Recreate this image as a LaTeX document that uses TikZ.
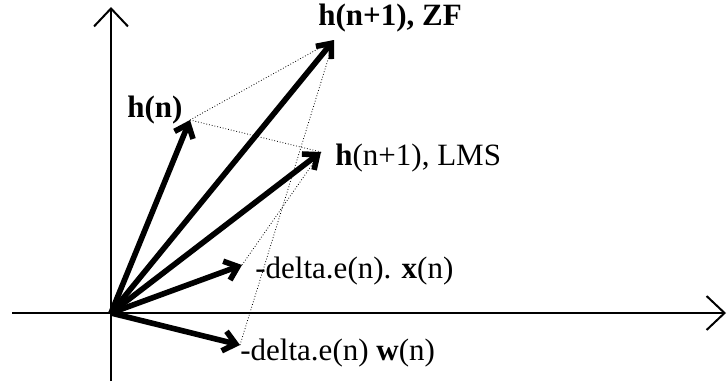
\documentclass[tikz,border=0pt]{standalone}
\usepackage{fontspec}
\setmainfont{Liberation Serif}
\usetikzlibrary{arrows.meta,positioning}
\tikzset{
  ax/.style={-{Straight Barb[length=9pt,width=17pt]},line width=1pt},
  vec/.style={-{Straight Barb[length=6pt,width=10pt]},line width=2.8pt},
  guide/.style={densely dotted,line width=0.4pt},
  lbl/.style={font=\fontsize{15.5}{17}\selectfont,inner sep=0pt,anchor=base west}
}
\begin{document}
\begin{tikzpicture}[x=0.5pt,y=-0.5pt]
\useasboundingbox (0,0) rectangle (727,381);
% axes
\coordinate (O) at (111,313);
\coordinate (xl) at (12,313);
\coordinate (xr) at (726,313);
\coordinate (yb) at (111,381);
\coordinate (yt) at (111,7);
\draw[ax] (xl) -- (xr);
\draw[ax] (yb) -- (yt);
% vector tips
\coordinate (hn) at (190,120);
\coordinate (zf) at (334,40);
\coordinate (lms) at (321,152);
\coordinate (xn) at (242,265);
\coordinate (wn) at (240,345);
% construction lines
\draw[guide] (hn) -- (zf);
\draw[guide] (hn) -- (lms);
\draw[guide] (xn) -- (lms);
\draw[guide] (wn) -- (zf);
% vectors
\draw[vec] (O) -- (hn);
\draw[vec] (O) -- (zf);
\draw[vec] (O) -- (lms);
\draw[vec] (O) -- (xn);
\draw[vec] (O) -- (wn);
% labels
\node[lbl] (lzf) at (318,25) {\bfseries h(n+1), ZF};
\node[lbl] (lhn) at (127,117) {\bfseries h(n)};
\node[lbl] (llms) at (335,165) {\textbf{h}(n+1), LMS};
\node[lbl] (lxn) at (255,278) {-delta.e(n). \textbf{x}(n)};
\node[lbl] (lwn) at (240,360) {-delta.e(n) \textbf{w}(n)};
\end{tikzpicture}
\end{document}
